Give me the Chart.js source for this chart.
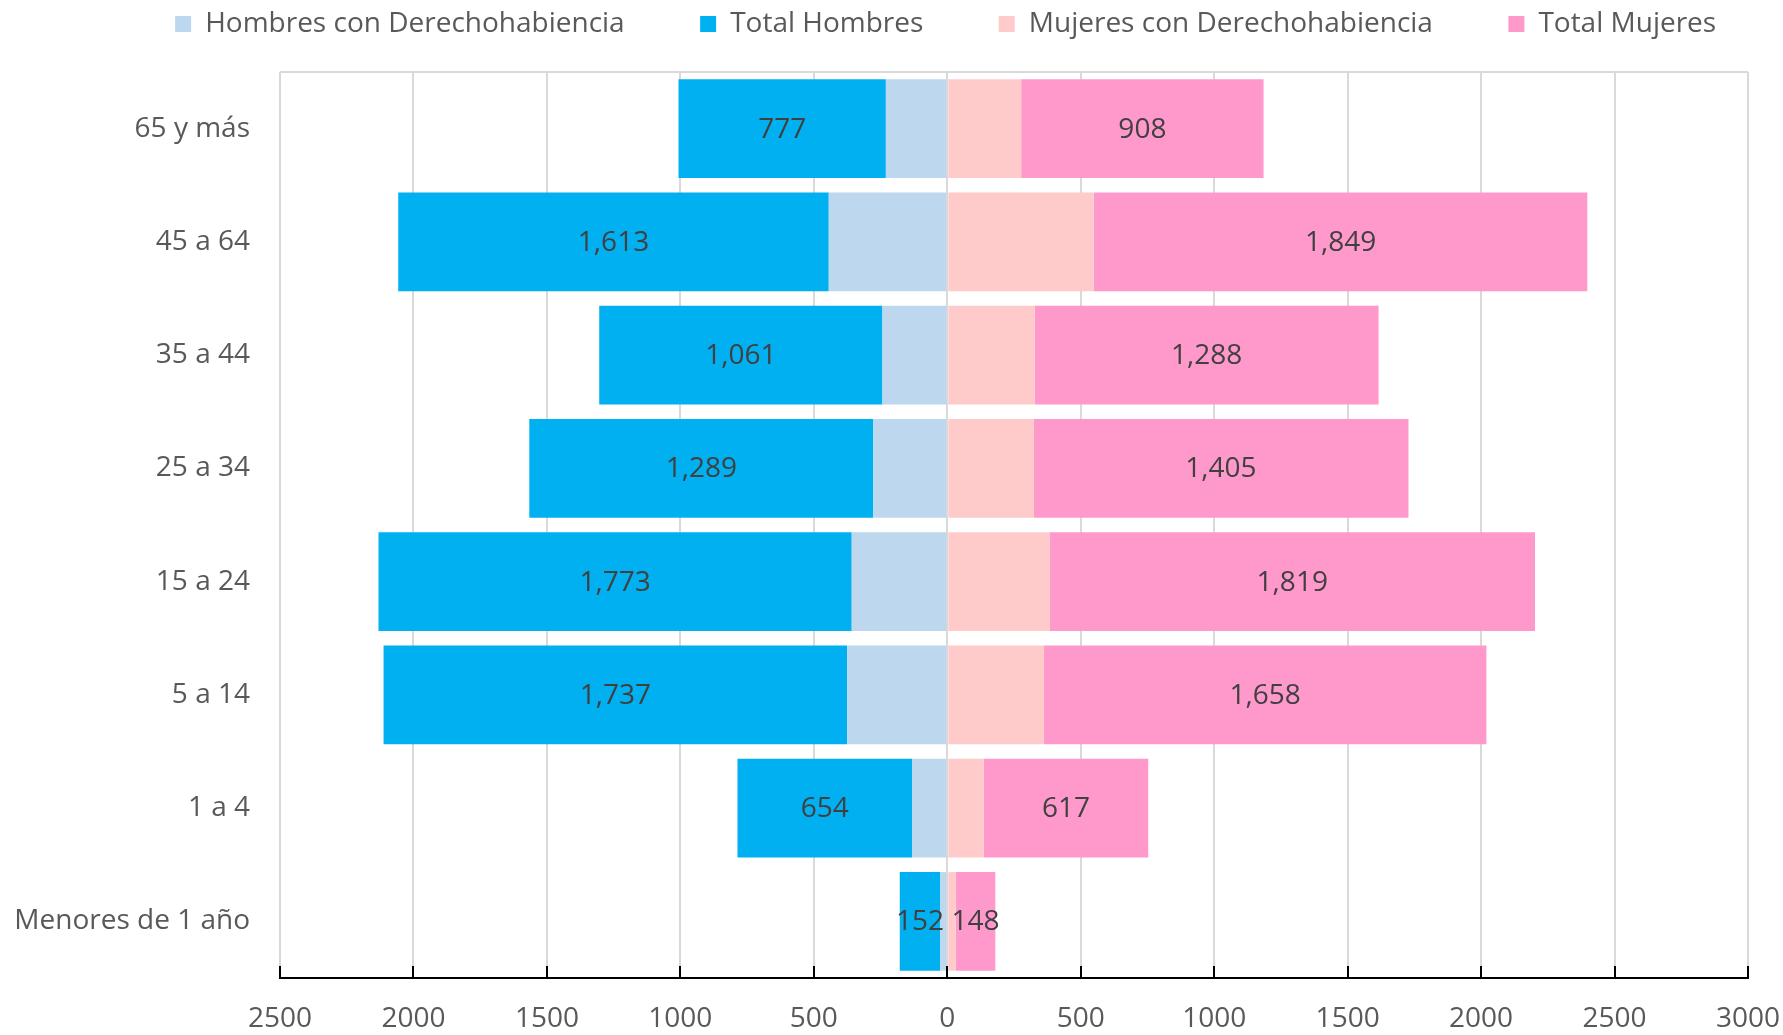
<!DOCTYPE html>
<html>
<head>
<meta charset="utf-8">
<script src="https://cdn.jsdelivr.net/npm/chart.js@4/dist/chart.umd.min.js"></script>
<style>
  html, body { margin: 0; padding: 0; background: #fff; }
  #wrap { width: 1783px; height: 1035px; }
</style>
</head>
<body>
<div id="wrap"><canvas id="chart" width="1783" height="1035"></canvas></div>
<script>
const categories = ['65 y más', '45 a 64', '35 a 44', '25 a 34', '15 a 24', '5 a 14', '1 a 4', 'Menores de 1 año'];
const hombresDH = [230, 444, 243, 277, 358, 375, 132, 26];
const totalHombres = [777, 1613, 1061, 1289, 1773, 1737, 654, 152];
const mujeresDH = [277, 549, 328, 323, 383, 362, 136, 32];
const totalMujeres = [908, 1849, 1288, 1405, 1819, 1658, 617, 148];
const xTicks = [-2500, -2000, -1500, -1000, -500, 0, 500, 1000, 1500, 2000, 2500, 3000];

const FONT = 'Open Sans';
const FS = 28;

// etiquetas centradas en los segmentos de totales
const barLabels = {
  id: 'barLabels',
  afterDatasetsDraw(chart) {
    const c = chart.ctx;
    c.save();
    c.font = FS + 'px "' + FONT + '"';
    c.fillStyle = '#404040';
    c.textAlign = 'center';
    c.textBaseline = 'middle';
    [1, 3].forEach(di => {
      const meta = chart.getDatasetMeta(di);
      const src = di === 1 ? totalHombres : totalMujeres;
      meta.data.forEach((bar, i) => {
        const p = bar.getProps(['x', 'y', 'base'], true);
        c.fillText(src[i].toLocaleString('en-US'), (p.x + p.base) / 2, p.y + 1);
      });
    });
    c.restore();
  }
};

// borde superior y marcas del eje hacia arriba
const axisMarks = {
  id: 'axisMarks',
  afterDraw(chart) {
    const c = chart.ctx;
    const a = chart.chartArea;
    const sx = chart.scales.x;
    c.save();
    c.strokeStyle = '#d9d9d9';
    c.lineWidth = 2;
    c.beginPath();
    c.moveTo(a.left, a.top);
    c.lineTo(a.right, a.top);
    c.stroke();
    c.strokeStyle = '#000';
    c.lineWidth = 2;
    sx.ticks.forEach(t => {
      const x = Math.round(sx.getPixelForValue(t.value));
      c.beginPath();
      c.moveTo(x, a.bottom);
      c.lineTo(x, a.bottom - 12);
      c.stroke();
    });
    c.restore();
  }
};

new Chart(document.getElementById('chart'), {
  type: 'bar',
  data: {
    labels: categories,
    datasets: [
      { label: 'Hombres con Derechohabiencia', data: hombresDH.map(v => -v), backgroundColor: '#BDD7EE' },
      { label: 'Total Hombres', data: totalHombres.map(v => -v), backgroundColor: '#00B0F0' },
      { label: 'Mujeres con Derechohabiencia', data: mujeresDH, backgroundColor: '#FFCACA' },
      { label: 'Total Mujeres', data: totalMujeres, backgroundColor: '#FF99CC' }
    ]
  },
  options: {
    indexAxis: 'y',
    responsive: false,
    animation: false,
    barPercentage: 0.87,
    categoryPercentage: 1,
    layout: { padding: { left: 0, right: 35, top: 0, bottom: 0 } },
    plugins: {
      legend: {
        position: 'top',
        align: 'end',
        labels: {
          color: '#595959',
          font: { family: FONT, size: FS },
          boxWidth: 16,
          boxHeight: 16,
          padding: 10,
          generateLabels(chart) {
            const items = Chart.defaults.plugins.legend.labels.generateLabels(chart);
            items.forEach((it, i) => {
              it.text = it.text + (i < items.length - 1 ? ' '.repeat(9) : ' '.repeat(3));
            });
            return items;
          }
        }
      },
      tooltip: { enabled: false }
    },
    scales: {
      x: {
        stacked: true,
        min: -2500,
        max: 3000,
        afterBuildTicks(scale) {
          scale.ticks = xTicks.map(v => ({ value: v }));
        },
        afterFit(scale) {
          scale.height = 57;
          scale.paddingLeft = 0;
          scale.paddingRight = 0;
        },
        ticks: {
          color: '#595959',
          font: { family: FONT, size: FS },
          padding: 24,
          maxRotation: 0,
          callback: v => Math.abs(v)
        },
        grid: { color: '#d9d9d9', lineWidth: 2, drawTicks: false },
        border: { display: true, color: '#000', width: 2 }
      },
      // eje auxiliar solo para dejar espacio bajo la leyenda
      xTop: {
        type: 'linear',
        position: 'top',
        display: true,
        afterFit(scale) {
          scale.height = 24;
          scale.paddingLeft = 0;
          scale.paddingRight = 0;
        },
        ticks: { display: false },
        grid: { display: false, drawTicks: false },
        border: { display: false }
      },
      y: {
        stacked: true,
        afterFit(scale) {
          scale.width = 280;
          scale.paddingTop = 0;
          scale.paddingBottom = 0;
        },
        ticks: {
          color: '#595959',
          font: { family: FONT, size: FS },
          padding: 30
        },
        grid: { display: false, drawTicks: false },
        border: { display: false }
      }
    }
  },
  plugins: [barLabels, axisMarks]
});
</script>
</body>
</html>
